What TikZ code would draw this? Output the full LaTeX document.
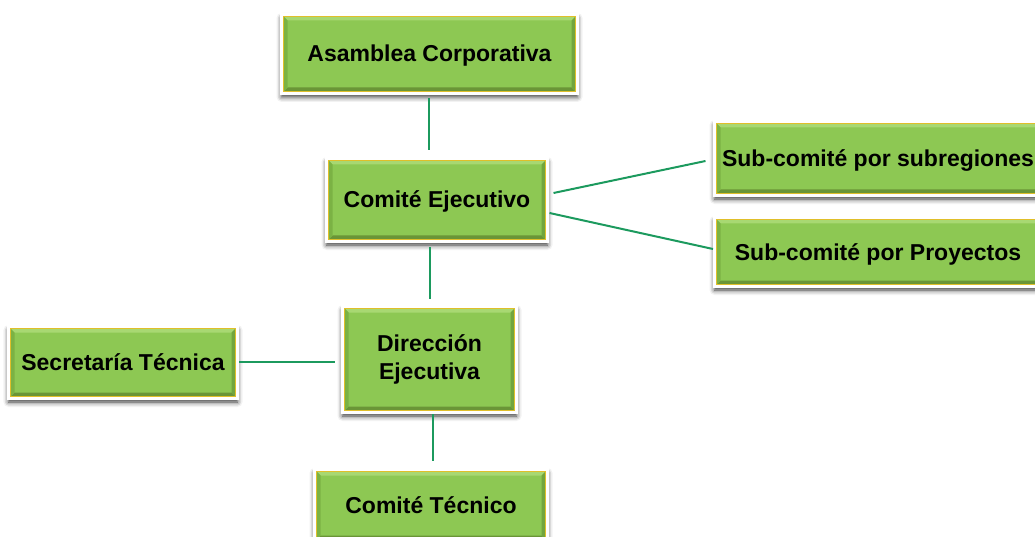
\documentclass[tikz,border=0pt]{standalone}
\usepackage{fontspec}
\setmainfont{Liberation Sans}
\usetikzlibrary{shadows.blur}

\definecolor{boxgreen}{HTML}{8DC853}
\definecolor{bevtop}{HTML}{A8D872}
\definecolor{bevbot}{HTML}{6A9537}
\definecolor{bevleft}{HTML}{7BB244}
\definecolor{bevright}{HTML}{72A53E}
\definecolor{goldline}{HTML}{E0BF2A}
\definecolor{linkgreen}{HTML}{1C9A5E}

\tikzset{
  bevel/.style={path picture={
    \path (path picture bounding box.south west) coordinate (bsw)
          (path picture bounding box.south east) coordinate (bse)
          (path picture bounding box.north west) coordinate (bnw)
          (path picture bounding box.north east) coordinate (bne);
    \fill[bevtop]   (bnw) -- (bne) -- ([xshift=-6pt,yshift=-6pt]bne) -- ([xshift=6pt,yshift=-6pt]bnw) -- cycle;
    \fill[bevbot]   (bsw) -- (bse) -- ([xshift=-6pt,yshift=6pt]bse) -- ([xshift=6pt,yshift=6pt]bsw) -- cycle;
    \fill[bevleft]  (bsw) -- (bnw) -- ([xshift=6pt,yshift=-6pt]bnw) -- ([xshift=6pt,yshift=6pt]bsw) -- cycle;
    \fill[bevright] (bse) -- (bne) -- ([xshift=-6pt,yshift=-6pt]bne) -- ([xshift=-6pt,yshift=6pt]bse) -- cycle;
    \draw[goldline, line width=0.9pt] ([xshift=1.9pt,yshift=1.9pt]bsw) rectangle ([xshift=-1.9pt,yshift=-1.9pt]bne);
  }},
  orgbox/.style={rectangle, fill=boxgreen, draw=white, line width=3pt,
    inner sep=0pt, text=black, align=center,
    font=\fontsize{23}{27.5}\selectfont\bfseries,
    blur shadow={shadow xshift=0pt, shadow yshift=-3.5pt, shadow blur radius=5pt, shadow opacity=80},
    bevel},
  oneline/.style={text height=16pt, text depth=0pt},
  link/.style={draw=linkgreen, line width=2pt}
}

\begin{document}
\begin{tikzpicture}[x=1pt, y=-1pt]
  \useasboundingbox (0,0) rectangle (1035,537);

  % boxes of the organisation chart
  \node[orgbox, oneline, minimum width=296pt, minimum height=79pt] (asam) at (429.5,54) {Asamblea Corporativa};
  \node[orgbox, oneline, minimum width=221pt, minimum height=83pt] (cej) at (437,200) {Comité Ejecutivo};
  \node[orgbox, oneline, minimum width=327pt, minimum height=74pt] (sreg) at (878,158.5) {Sub-comité por subregiones};
  \node[orgbox, oneline, minimum width=327pt, minimum height=69pt] (sproy) at (878,252) {Sub-comité por Proyectos};
  \node[orgbox, oneline, minimum width=229pt, minimum height=72pt] (sec) at (123,362.5) {Secretaría Técnica};
  \node[orgbox, minimum width=174pt, minimum height=106pt] (dir) at (429.5,359.5) {Dirección\\Ejecutiva};
  \node[orgbox, oneline, minimum width=233pt, minimum height=72pt] (ctec) at (431,505.5) {Comité Técnico};

  % connectors
  \draw[link, shorten <=3.5pt, shorten >=6.5pt] ([xshift=-0.5pt]asam.south) -- ([xshift=-0.5pt]asam.south |- cej.north);
  \draw[link, shorten <=4.5pt, shorten >=6.5pt] ([xshift=0.5pt]cej.south -| dir.north) -- ([xshift=0.5pt]dir.north);
  \draw[link, shorten >=7.5pt] ([xshift=3.5pt]dir.south) -- ([xshift=3.5pt]dir.south |- ctec.north);
  \draw[link, shorten >=6.5pt] ([yshift=0.5pt]sec.east) -- ([yshift=0.5pt]sec.east -| dir.west);
  \draw[link] ([xshift=4.5pt,yshift=7pt]cej.east) -- ([xshift=-7.5pt,yshift=-2.5pt]sreg.west);
  \draw[link] ([xshift=0.5pt,yshift=-13pt]cej.east) -- ([yshift=3pt]sproy.west);
\end{tikzpicture}
\end{document}
